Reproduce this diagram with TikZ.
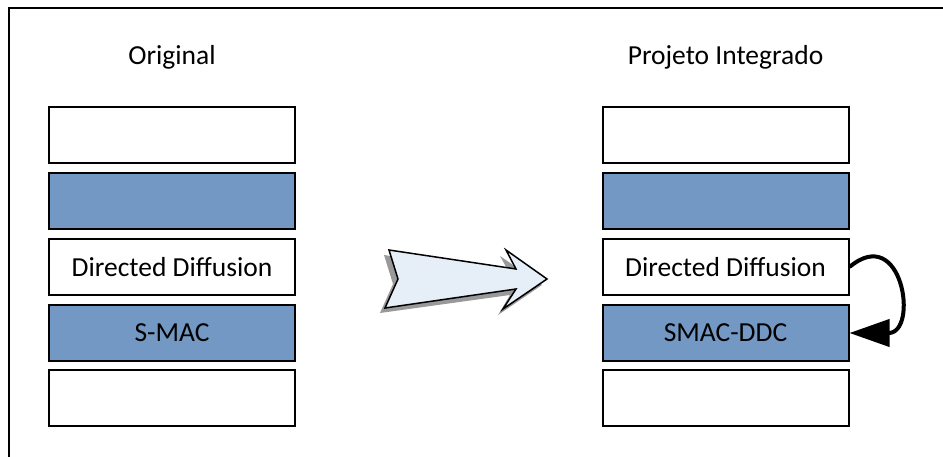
\documentclass[tikz,border=0pt]{standalone}
\usepackage{fontspec}
\setmainfont{Carlito}
\usetikzlibrary{arrows.meta}
\definecolor{layerblue}{RGB}{115,152,195}
\definecolor{arrowfill}{RGB}{230,238,248}
\tikzset{
  layer/.style={draw, line width=2pt, minimum width=246pt, minimum height=56pt, inner sep=0pt, font=\fontsize{27.5}{32}\selectfont},
  blue layer/.style={layer, fill=layerblue},
  title/.style={font=\fontsize{27.5}{32}\selectfont}
}
\begin{document}
\begin{tikzpicture}[x=1pt, y=-1pt]
            \useasboundingbox (0,0) rectangle (943,457);
            \def\xl{172};
            \def\xr{725.5};

            \def\ya{135};
            \def\yb{201};
            \def\yc{267};
            \def\yd{333};
            \def\ye{398};

            % frame
            \draw[line width=2pt] (9,457) -- (9,8) -- (943,8);

            \node[title] (orig) at (\xl, 57) {Original};
            \node[layer] (l1) at (\xl, \ya) {};
            \node[blue layer] (l2) at (\xl, \yb) {};
            \node[layer] (l3) at (\xl, \yc) {Directed Diffusion};
            \node[blue layer] (l4) at (\xl, \yd) {S-MAC};
            \node[layer] (l5) at (\xl, \ye) {};

            \node[title] (proj) at (\xr, 57) {Projeto Integrado};
            \node[layer] (r1) at (\xr, \ya) {};
            \node[blue layer] (r2) at (\xr, \yb) {};
            \node[layer] (r3) at (\xr, \yc) {Directed Diffusion};
            \node[blue layer] (r4) at (\xr, \yd) {SMAC-DDC};
            \node[layer] (r5) at (\xr, \ye) {};

            % big arrow
            \fill[gray!80] (384,255) -- (510,274) -- (500,256) -- (542,285) -- (498,315) -- (510,295) -- (380,313) -- (393,284) -- cycle;
            \filldraw[fill=arrowfill, line width=1.5pt] (389,250) -- (516,269) -- (506,250) -- (547,279) -- (503,309) -- (516,289) -- (385,308) -- (398,279) -- cycle;

            \draw[line width=4pt, -{Triangle[length=40pt, width=27pt]}] (r3.east) to [out=40, in=0, looseness=2.7] (r4.east);
        \end{tikzpicture}
\end{document}
